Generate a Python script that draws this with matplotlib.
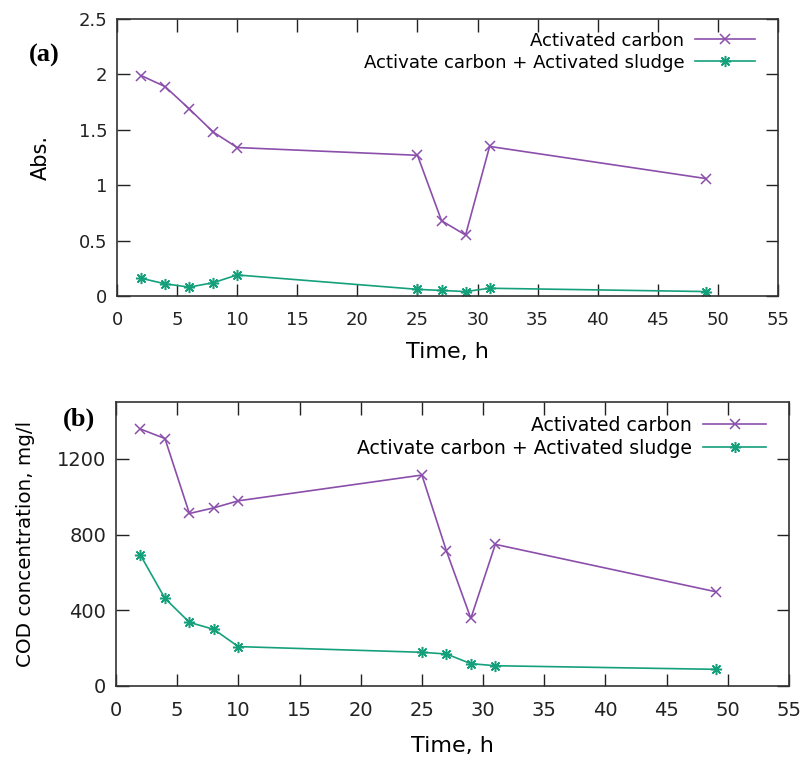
import matplotlib
matplotlib.use("Agg")
import matplotlib.pyplot as plt

time_h = [2, 4, 6, 8, 10, 25, 27, 29, 31, 49]
abs_carbon = [1.99, 1.89, 1.69, 1.48, 1.34, 1.27, 0.68, 0.55, 1.35, 1.06]
abs_carbon_sludge = [0.16, 0.11, 0.08, 0.12, 0.19, 0.06, 0.05, 0.04, 0.07, 0.04]
cod_carbon = [1357, 1307, 911, 941, 978, 1114, 714, 357, 748, 498]
cod_carbon_sludge = [691, 463, 336, 299, 208, 178, 169, 118, 107, 88]

label_carbon = "Activated carbon"
label_sludge = "Activate carbon + Activated sludge"
xticks = list(range(0, 60, 5))
yticks_a = [0, 0.5, 1, 1.5, 2, 2.5]
ytick_labels_a = ["0", "0.5", "1", "1.5", "2", "2.5"]
yticks_b = [0, 400, 800, 1200]

purple = "#8b4fab"
green = "#15a07c"
asterisk = (8, 2, 0)

plt.rcParams['font.family'] = ['DejaVu Sans']

fig = plt.figure(figsize=(8.06, 7.58), dpi=100)
ax1 = fig.add_axes([0.1452, 0.6095, 0.8201, 0.3654])
ax2 = fig.add_axes([0.1439, 0.0950, 0.8350, 0.3747])

def style(ax, lsize, xpad, xlabelpad, xlabelsize):
    ax.set_xlim(0, 55)
    ax.set_xticks(xticks)
    ax.tick_params(direction='in', length=9, width=1.0, top=True, right=True,
                   labelsize=lsize, pad=7, colors='#222222')
    ax.tick_params(axis='x', pad=xpad)
    for s in ax.spines.values():
        s.set_linewidth(1.2)
        s.set_color('#333333')
    ax.set_xlabel("Time, h", fontsize=xlabelsize, labelpad=xlabelpad)

for ax, yc, ys in [(ax1, abs_carbon, abs_carbon_sludge), (ax2, cod_carbon, cod_carbon_sludge)]:
    ax.plot(time_h, yc, color=purple, lw=1.2, marker='x', ms=7, mew=1.1, label=label_carbon)
    ax.plot(time_h, ys, color=green, lw=1.2, marker=asterisk, ms=8, mew=1.1, label=label_sludge)

style(ax1, 13, 11, 9, 16)
style(ax2, 14, 11, 11, 16)

ax1.set_ylim(0, 2.5)
ax1.set_yticks(yticks_a)
ax1.set_yticklabels(ytick_labels_a)
ax1.set_ylabel("Abs.", fontsize=15, labelpad=20)

ax2.set_ylim(0, 1500)
ax2.set_yticks(yticks_b)
ax2.set_ylabel("COD concentration, mg/l", fontsize=14.3, labelpad=16)

for ax, anchor, fs in [(ax1, (0.985, 1.0), 13.1), (ax2, (0.985, 0.998), 13.6)]:
    ax.legend(loc='upper right', bbox_to_anchor=anchor, frameon=False, markerfirst=False,
              fontsize=fs, handlelength=3.3, handletextpad=0.6, labelspacing=0.22,
              borderpad=0.2, numpoints=1)

fig.text(0.055, 0.927, "(a)", fontsize=19, fontweight='bold', family='Liberation Serif',
         ha='center', va='center')
fig.text(0.098, 0.447, "(b)", fontsize=19, fontweight='bold', family='Liberation Serif',
         ha='center', va='center')

fig.savefig("out.png", dpi=100)
